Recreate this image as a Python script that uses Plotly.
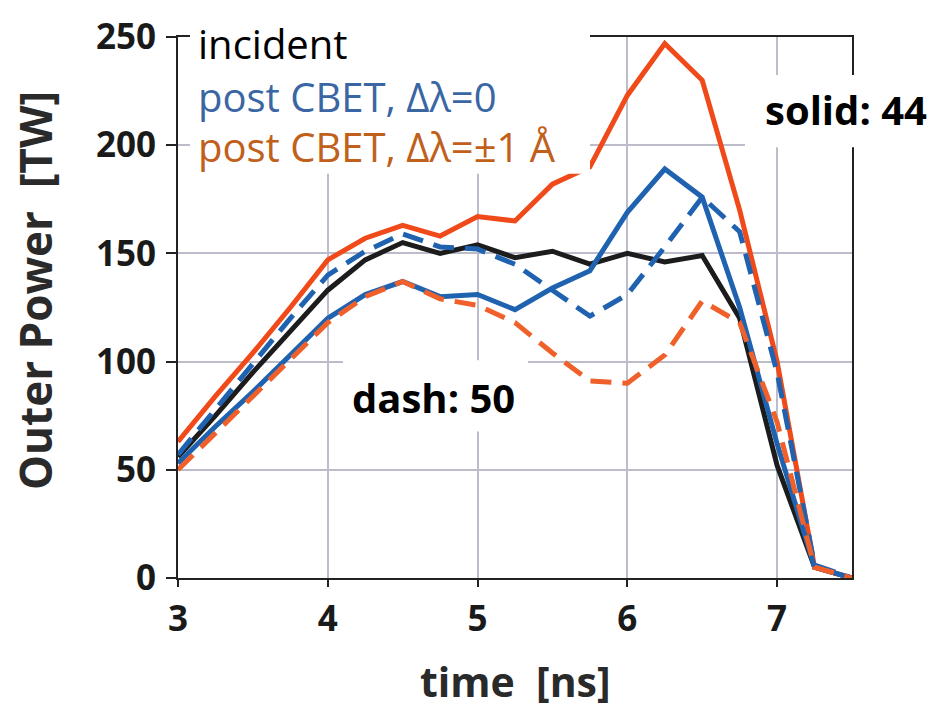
import plotly.graph_objects as go

# time axis (ns)
time_ns = [3.0, 3.25, 3.5, 3.75, 4.0, 4.25, 4.5, 4.75, 5.0, 5.25, 5.5, 5.75,
           6.0, 6.25, 6.5, 6.75, 7.0, 7.25, 7.5]

# Outer power [TW]
incident = [56, 75, 95, 114, 133, 147, 155, 150, 154, 148, 151, 145,
            150, 146, 149, 120, 52, 5, 0]
cbet0_solid = [53, 70, 86, 103, 120, 131, 137, 130, 131, 124, 134, 142,
               169, 189, 176, 125, 62, 5, 0]
cbet1_solid = [63, 84, 104, 125, 147, 157, 163, 158, 167, 165, 182, 190,
               223, 247, 230, 170, 100, 5, 0]
cbet0_dash = [57, 78, 99, 120, 140, 151, 159, 153, 152, 145, 133, 121,
              131, 153, 176, 160, 95, 6, 0]
cbet1_dash = [50, 67, 84, 101, 118, 130, 137, 129, 126, 118, 104, 91,
              90, 103, 128, 118, 72, 5, 0]

x_ticks = [3, 4, 5, 6, 7]
y_ticks = [0, 50, 100, 150, 200, 250]

BLACK = "#1c1c1c"
BLUE = "#1f62b0"
RED = "#f04a1a"
ORANGE = "#f0602a"

fig = go.Figure()
fig.add_trace(go.Scatter(x=time_ns, y=incident, mode="lines",
                         line=dict(color=BLACK, width=5), name="incident"))
fig.add_trace(go.Scatter(x=time_ns, y=cbet1_solid, mode="lines",
                         line=dict(color=RED, width=5), name="post CBET ±1 solid"))
fig.add_trace(go.Scatter(x=time_ns, y=cbet0_solid, mode="lines",
                         line=dict(color=BLUE, width=5), name="post CBET 0 solid"))
fig.add_trace(go.Scatter(x=time_ns, y=cbet0_dash, mode="lines",
                         line=dict(color=BLUE, width=5, dash="21px,11px"),
                         name="post CBET 0 dash"))
fig.add_trace(go.Scatter(x=time_ns, y=cbet1_dash, mode="lines",
                         line=dict(color=ORANGE, width=5, dash="21px,11px"),
                         name="post CBET ±1 dash"))

L, R, T, B = 178, 83, 24, 132
W, H = 935, 710
PW, PH = W - L - R, H - T - B


def px(x):
    return (x - L) / PW


def py(y):
    return (H - B - y) / PH


tickfont = dict(family="Open Sans", size=35, color="#1a1a1a", weight="bold")

fig.update_layout(
    width=W, height=H, autosize=False,
    margin=dict(l=L, r=R, t=T, b=B),
    paper_bgcolor="white", plot_bgcolor="white",
    showlegend=False,
    xaxis=dict(range=[3, 7.5], tickvals=x_ticks, showgrid=True,
               gridcolor="#bcbccb", gridwidth=1.5, zeroline=False,
               showline=True, linecolor="#222", linewidth=2, mirror=True,
               ticks="outside", ticklen=7, tickwidth=2, tickcolor="#222",
               tickfont=tickfont, ticklabelstandoff=2,
               ticklabeloverflow="allow"),
    yaxis=dict(range=[0, 250], tickvals=y_ticks, showgrid=True,
               gridcolor="#bcbccb", gridwidth=1.5, zeroline=False,
               showline=True, linecolor="#222", linewidth=2, mirror=True,
               ticks="outside", ticklen=10, tickwidth=2, tickcolor="#222",
               tickfont=tickfont, ticklabelstandoff=3,
               ticklabeloverflow="allow"),
)

# white boxes behind the text labels
boxes = [(190, 590, 0, 164), (745, 935, 63, 137), (343, 528, 355, 428)]
for x0, x1, y0, y1 in boxes:
    fig.add_shape(type="rect", xref="paper", yref="paper",
                  x0=px(x0), x1=px(x1), y0=py(y1), y1=py(y0),
                  fillcolor="white", line=dict(width=0), layer="above")

legend_font = dict(family="Open Sans", size=40)
fig.add_annotation(xref="paper", yref="paper", x=px(196), y=py(31),
                   xanchor="left", yanchor="middle", showarrow=False,
                   text="incident", font=dict(**legend_font, color="#000000"))
fig.add_annotation(xref="paper", yref="paper", x=px(196), y=py(85),
                   xanchor="left", yanchor="middle", showarrow=False,
                   text="post CBET, Δλ=0", font=dict(**legend_font, color="#3a66a3"))
fig.add_annotation(xref="paper", yref="paper", x=px(196), y=py(136),
                   xanchor="left", yanchor="middle", showarrow=False,
                   text="post CBET, Δλ=±1 Å", font=dict(**legend_font, color="#c0601a"))

label_font = dict(family="Open Sans", size=40, color="#000000", weight="bold")
fig.add_annotation(xref="paper", yref="paper", x=px(846), y=py(98),
                   xanchor="center", yanchor="middle", showarrow=False,
                   text="solid: 44", font=label_font)
fig.add_annotation(xref="paper", yref="paper", x=px(433), y=py(393),
                   xanchor="center", yanchor="middle", showarrow=False,
                   text="dash: 50", font=label_font)

fig.add_annotation(xref="paper", yref="paper", x=px(515), y=py(683),
                   xanchor="center", yanchor="middle", showarrow=False,
                   text="time \u00a0[ns]",
                   font=dict(family="Open Sans", size=41, color="#2a2a2a", weight="bold"))
fig.add_annotation(xref="paper", yref="paper", x=px(35), y=py(284),
                   xanchor="center", yanchor="middle", showarrow=False,
                   textangle=-90, text="Outer Power \u00a0[TW]",
                   font=dict(family="Open Sans", size=44, color="#2a2a2a", weight="bold"))

# remove the default page margin so the 935x710 figure fills the window
fig.write_html("out.html",
               config={"displayModeBar": False},
               post_script="document.body.style.margin='0px';document.body.style.overflow='hidden';")
